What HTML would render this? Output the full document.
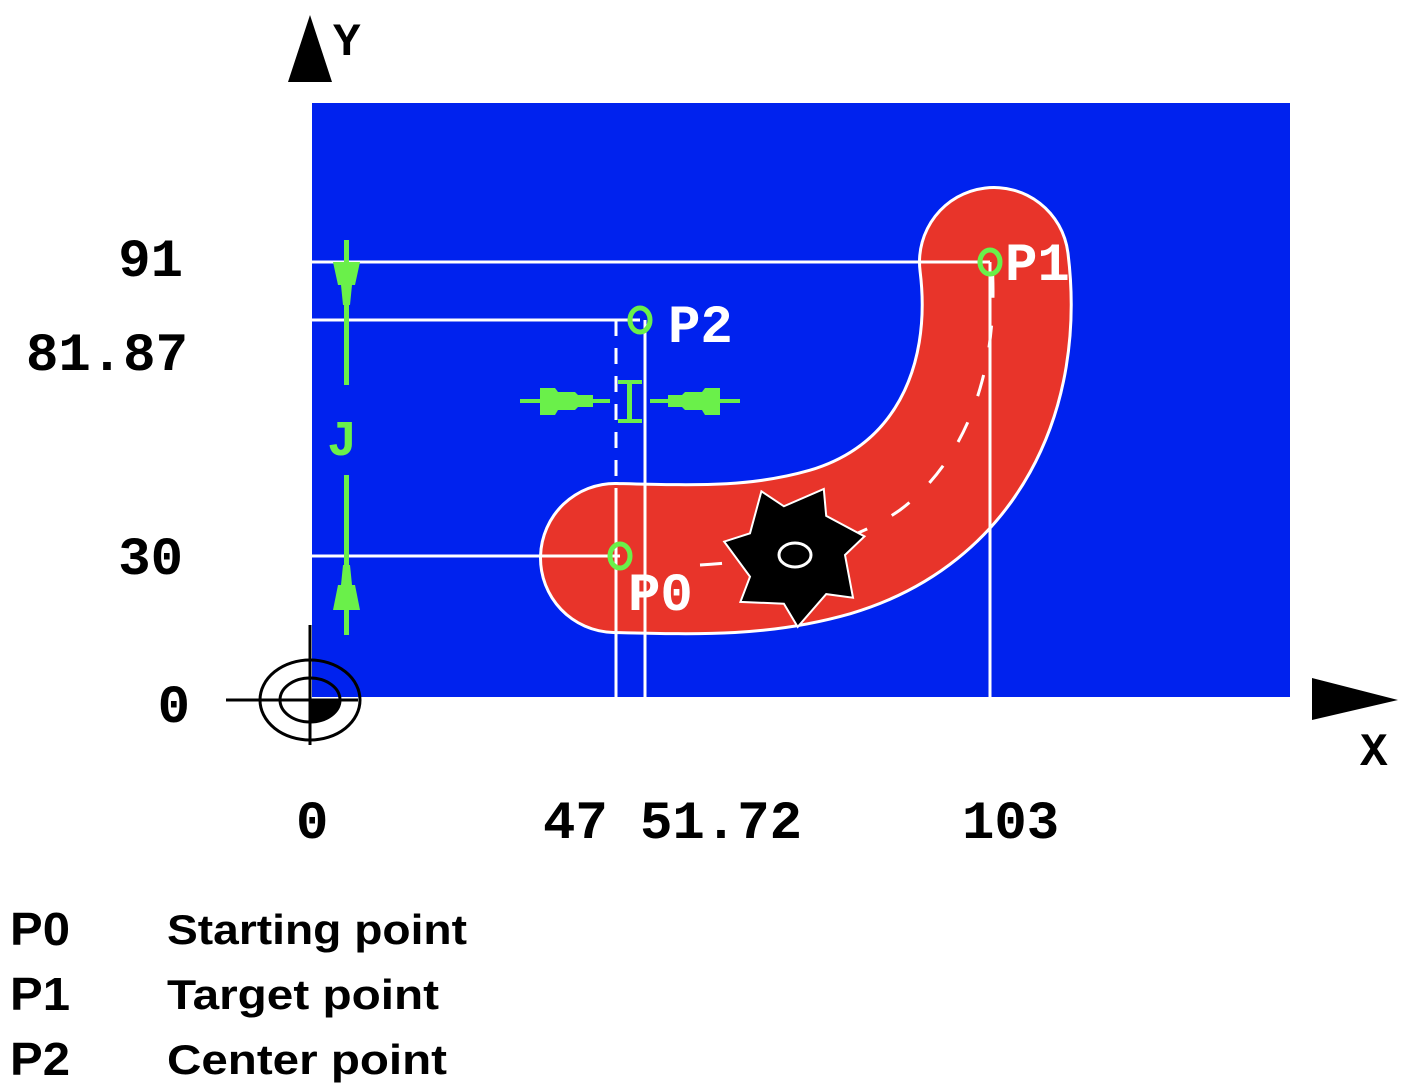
<!DOCTYPE html>
<html><head><meta charset="utf-8"><style>
html,body{margin:0;padding:0;background:#fff;}
svg{display:block;}
.m{font-family:"Liberation Mono",monospace;font-weight:bold;}
.s{font-family:"Liberation Sans",sans-serif;font-weight:bold;}
</style></head><body>
<svg width="1412" height="1090" viewBox="0 0 1412 1090" xmlns="http://www.w3.org/2000/svg">
<rect width="1412" height="1090" fill="#fff"/>
<rect x="312" y="103" width="978" height="594" fill="#0022ee"/>
<path d="M615 558 C700 560 760 562 830 542 C955 505 1010 390 994 262" fill="none" stroke="#fff" stroke-width="152" stroke-linecap="round"/>
<path d="M615 558 C700 560 760 562 830 542 C955 505 1010 390 994 262" fill="none" stroke="#e8342a" stroke-width="146" stroke-linecap="round"/>
<path d="M700 565 C780 560 850 545 900 510 C960 465 1000 380 992 262" fill="none" stroke="#fff" stroke-width="3" stroke-dasharray="22 28"/>
<g stroke="#fff" stroke-width="3" fill="none">
<line x1="312" y1="262" x2="990" y2="262"/>
<line x1="312" y1="320" x2="640" y2="320"/>
<line x1="312" y1="556" x2="620" y2="556"/>
<line x1="616" y1="320" x2="616" y2="490" stroke-dasharray="16 12"/>
<line x1="616" y1="490" x2="616" y2="697"/>
<line x1="645" y1="320" x2="645" y2="697"/>
<line x1="990" y1="262" x2="990" y2="697"/>
</g>
<polygon points="845,555 864.5,536.4 826.2,515.9 823.8,489 783.9,506.3 761.4,491.3 750,533.3 724.2,541.6 750,576.7 740.4,601.9 783.9,603.7 797.7,626.9 826.2,594.1 853,597.7" fill="#000" stroke="#fff" stroke-width="2"/>
<ellipse cx="795" cy="555" rx="16" ry="12" fill="none" stroke="#fff" stroke-width="3"/>
<g fill="none" stroke="#6af04a" stroke-width="5">
<ellipse cx="620" cy="556" rx="10" ry="12"/>
<ellipse cx="640" cy="320" rx="10" ry="12"/>
<ellipse cx="990" cy="262" rx="10" ry="12"/>
</g>
<g fill="#6af04a" stroke="none">
<rect x="344" y="240" width="5" height="145"/>
<rect x="344" y="475" width="5" height="160"/>
<polygon points="333,262 360,262 355,285 352,285 350,305 343,305 341,285 338,285"/>
<polygon points="333,610 360,610 355,585 352,585 350,565 343,565 341,585 338,585"/>
</g>
<text x="342" y="455" class="m" font-size="50" fill="#6af04a" text-anchor="middle">J</text>
<g fill="#6af04a">
<rect x="520" y="399" width="90" height="4"/>
<rect x="650" y="399" width="90" height="4"/>
<polygon points="540,388 555,388 558,392 575,392 578,395 593,395 593,407 578,407 575,410 558,410 555,415 540,415"/>
<polygon points="720,388 705,388 702,392 685,392 682,395 668,395 668,407 682,407 685,410 702,410 705,415 720,415"/>
<rect x="618" y="380" width="24" height="4"/>
<rect x="618" y="419" width="24" height="4"/>
<rect x="627" y="380" width="5" height="43"/>
</g>
<text x="668" y="342" class="m" font-size="54" fill="#fff">P2</text>
<text x="1005" y="280" class="m" font-size="54" fill="#fff">P1</text>
<text x="628" y="610" class="m" font-size="54" fill="#fff">P0</text>
<polygon points="310,15 332,82 288,82" fill="#000"/>
<text x="333" y="55" class="m" font-size="46" fill="#000">Y</text>
<polygon points="1312,678 1398,700 1312,720" fill="#000"/>
<text x="1360" y="765" class="m" font-size="46" fill="#000">X</text>
<g stroke="#000" stroke-width="3" fill="none">
<line x1="226" y1="700" x2="358" y2="700"/>
<line x1="310" y1="625" x2="310" y2="745"/>
<ellipse cx="310" cy="700" rx="50" ry="40"/>
<ellipse cx="310" cy="700" rx="30" ry="22"/>
</g>
<path d="M310 700 L340 700 A30 22 0 0 1 310 722 Z" fill="#000"/>
<g class="m" font-size="54" fill="#000">
<text x="183" y="276" text-anchor="end">91</text>
<text x="188" y="370" text-anchor="end">81.87</text>
<text x="183" y="574" text-anchor="end">30</text>
<text x="190" y="722" text-anchor="end">0</text>
<text x="296" y="838">0</text>
<text x="543" y="838">47</text>
<text x="640" y="838">51.72</text>
<text x="962" y="838">103</text>
</g>
<g class="s" font-size="46" fill="#000">
<text x="10" y="945" textLength="60" lengthAdjust="spacingAndGlyphs">P0</text>
<text x="10" y="1010" textLength="60" lengthAdjust="spacingAndGlyphs">P1</text>
<text x="10" y="1075" textLength="60" lengthAdjust="spacingAndGlyphs">P2</text>
</g>
<g class="s" font-size="42" fill="#000">
<text x="167" y="944" textLength="300" lengthAdjust="spacingAndGlyphs">Starting point</text>
<text x="167" y="1009" textLength="272" lengthAdjust="spacingAndGlyphs">Target point</text>
<text x="167" y="1074" textLength="280" lengthAdjust="spacingAndGlyphs">Center point</text>
</g>
</svg>
</body></html>
